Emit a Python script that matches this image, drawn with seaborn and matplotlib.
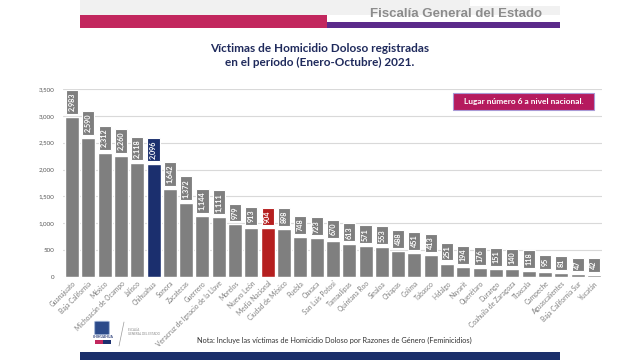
import matplotlib
matplotlib.use("Agg")
import matplotlib.pyplot as plt
from matplotlib.patches import Rectangle, FancyBboxPatch
from matplotlib.ticker import FuncFormatter
import seaborn as sns

W, H = 640, 360

states = [
    "Guanajuato", "Baja California", "México", "Michoacán de Ocampo", "Jalisco",
    "Chihuahua", "Sonora", "Zacatecas", "Guerrero", "Veracruz de Ignacio de la Llave",
    "Morelos", "Nuevo León", "Media Nacional", "Ciudad de México", "Puebla",
    "Oaxaca", "San Luis Potosí", "Tamaulipas", "Quintana Roo", "Sinaloa",
    "Chiapas", "Colima", "Tabasco", "Hidalgo", "Nayarit",
    "Querétaro", "Durango", "Coahuila de Zaragoza", "Tlaxcala", "Campeche",
    "Aguascalientes", "Baja California Sur", "Yucatán",
]
victims = [
    2983, 2590, 2312, 2260, 2118,
    2096, 1642, 1372, 1144, 1111,
    979, 913, 904, 898, 748,
    723, 670, 613, 571, 553,
    488, 451, 413, 251, 194,
    176, 151, 140, 118, 95,
    81, 47, 42,
]
highlight = {"Chihuahua": "#1b2f6e", "Media Nacional": "#b51f1f"}
title_lines = ["Víctimas de Homicidio Doloso registradas",
               "en el período (Enero-Octubre) 2021."]

GRAY = "#7f7f7f"
colors = [highlight.get(s, GRAY) for s in states]

sns.set_theme(style="white")
plt.rcParams["font.family"] = ["Lato", "DejaVu Sans"]

fig = plt.figure(figsize=(W / 100, H / 100), dpi=100)
fig.patch.set_facecolor("white")


def fx(x):
    return x / W


def fy(y):
    return 1 - y / H


def rect(x0, y0, x1, y1, color, **kw):
    fig.add_artist(Rectangle((fx(x0), fy(y1)), fx(x1 - x0), (y1 - y0) / H,
                             transform=fig.transFigure, facecolor=color,
                             edgecolor="none", **kw))


# header
rect(80, 0, 560, 15, "#f1f1f1")
rect(470, 0, 560, 6, "white")
rect(80, 15, 327, 28, "#c2275e")
rect(327, 22, 560, 28, "#5b2a8a")
fig.text(fx(456), fy(14), "Fiscalía General del Estado", ha="center", va="center",
         fontsize=9.5, fontweight="bold", color="#8c8c8c",
         family=["Liberation Sans Narrow", "Liberation Sans", "DejaVu Sans"])

fig.text(fx(320), fy(48), title_lines[0], ha="center", va="center",
         fontsize=8.5, fontweight="bold", color="#1f2a5c")
fig.text(fx(320), fy(62), title_lines[1], ha="center", va="center",
         fontsize=8.5, fontweight="bold", color="#1f2a5c")

# chart
ax = fig.add_axes([fx(63), fy(277), fx(602 - 63), (277 - 89) / H])
sns.barplot(x=states, y=victims, hue=states, palette=colors, legend=False,
            width=0.86, saturation=1, ax=ax)
ax.set_xlim(-0.55, len(states) - 0.5)
ax.set_ylim(0, 3500)
ax.set_yticks(range(0, 3501, 500))
ax.yaxis.set_major_formatter(FuncFormatter(lambda v, p: f"{int(v):,}"))
ax.grid(axis="y", color="#d9d9d9", linewidth=0.8)
ax.set_axisbelow(True)
for sp in ax.spines.values():
    sp.set_visible(False)
ax.tick_params(axis="y", labelsize=4.5, labelcolor="#595959", length=0, pad=6)
ax.tick_params(axis="x", labelsize=4.8, labelcolor="#808080", length=0, pad=2)
plt.setp(ax.get_xticklabels(), rotation=45, ha="right", rotation_mode="anchor")
ax.set_xlabel("")
ax.set_ylabel("")

# value labels: one container per hue level, same order as states
for container, value, c in zip(ax.containers, victims, colors):
    box = dict(boxstyle="square,pad=0.35", facecolor=c, edgecolor="white", linewidth=0.8)
    ax.bar_label(container, labels=[f"{value:,}"], padding=4, rotation=90,
                 fontsize=5.2, fontweight="bold", color="white", bbox=box)

# note box
fig.add_artist(Rectangle((fx(453), fy(110)), fx(594 - 453), 17 / H,
                         transform=fig.transFigure, facecolor="#b51a5e",
                         edgecolor="#a99ad6", linewidth=0.8))
fig.text(fx(523.5), fy(101.5), "Lugar número 6 a nivel nacional.", ha="center",
         va="center", fontsize=6, fontweight="bold", color="white")

# footer
fig.add_artist(FancyBboxPatch((fx(96), fy(334)), fx(12), 12 / H,
                              boxstyle="round,pad=0.002", transform=fig.transFigure,
                              facecolor="#2b4a8a", edgecolor="#9fb3d6", linewidth=0.6))
fig.text(fx(103), fy(337.5), "CHIHUAHUA", ha="center", va="center", fontsize=2.4,
         fontweight="bold", color="#1b2f6e")
rect(95, 340, 103, 344, "#c2275e")
rect(103, 340, 111, 344, "#1b2f6e")
fig.add_artist(plt.Line2D([fx(124), fx(119)], [fy(322), fy(346)],
                          transform=fig.transFigure, color="#9a9a9a", linewidth=0.5))
fig.text(fx(128), fy(330), "FISCALÍA", fontsize=2.2, color="#8a8a8a", va="center")
fig.text(fx(128), fy(334), "GENERAL DEL ESTADO", fontsize=2.2, color="#8a8a8a", va="center")
fig.text(fx(334), fy(340), "Nota: Incluye las víctimas de Homicidio Doloso por Razones de Género (Feminicidios)",
         ha="center", va="center", fontsize=5.3, color="#333333")
rect(80, 352, 560, 360, "#1b2f6b")

fig.savefig("out.png", dpi=100, facecolor="white")
